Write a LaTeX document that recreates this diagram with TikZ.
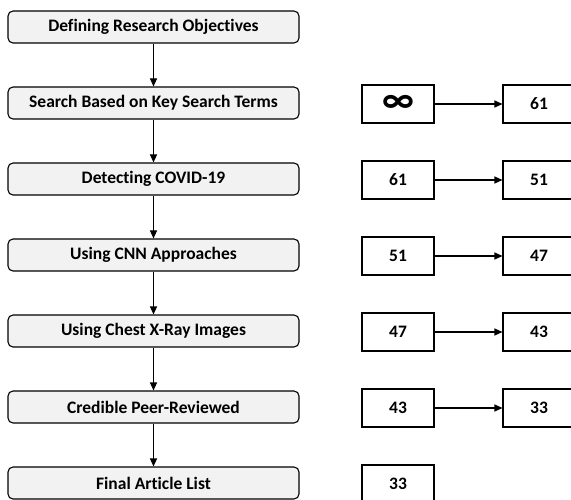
\documentclass[tikz,border=0pt]{standalone}
\usepackage{fontspec}
\setmainfont{Carlito}[Ligatures={NoCommon,NoContextual}]
\usetikzlibrary{arrows.meta}
\newcommand{\infsym}{{\fontsize{38}{38}\selectfont ∞}}
\begin{document}
\begin{tikzpicture}[x=1pt,y=-1pt,
  stagebox/.style={draw=black, line width=1.1pt, fill=black!5, rounded corners=5pt,
    minimum width=291pt, minimum height=32pt, inner sep=0pt, font=\fontsize{17.5}{19}\selectfont\bfseries},
  countbox/.style={draw=black, line width=1.1pt, fill=white,
    minimum width=72pt, minimum height=38pt, inner sep=0pt, font=\fontsize{17.5}{19}\selectfont\bfseries},
  flow/.style={-{Triangle[length=8pt,width=7pt]}, line width=1.1pt}]
\useasboundingbox (0,0) rectangle (571,500);
\node[stagebox] (s1) at (153.5,27) {Defining Research Objectives};
\node[stagebox] (s2) at (153.5,103) {Search Based on Key Search Terms};
\node[stagebox] (s3) at (153.5,179) {Detecting COVID-19};
\node[stagebox] (s4) at (153.5,255) {Using CNN Approaches};
\node[stagebox] (s5) at (153.5,331) {Using Chest X-Ray Images};
\node[stagebox] (s6) at (153.5,407) {Credible Peer-Reviewed};
\node[stagebox] (s7) at (153.5,483) {Final Article List};
\draw[flow] (s1) -- (s2);
\draw[flow] (s2) -- (s3);
\draw[flow] (s3) -- (s4);
\draw[flow] (s4) -- (s5);
\draw[flow] (s5) -- (s6);
\draw[flow] (s6) -- (s7);
\node[countbox] (a1) at (398,104) {\infsym};
\node[countbox] (b1) at (539,104) {61};
\node[countbox] (a2) at (398,180) {61};
\node[countbox] (b2) at (539,180) {51};
\node[countbox] (a3) at (398,256) {51};
\node[countbox] (b3) at (539,256) {47};
\node[countbox] (a4) at (398,332) {47};
\node[countbox] (b4) at (539,332) {43};
\node[countbox] (a5) at (398,408) {43};
\node[countbox] (b5) at (539,408) {33};
\node[countbox] (a6) at (398,484) {33};
\draw[flow] (a1) -- (b1);
\draw[flow] (a2) -- (b2);
\draw[flow] (a3) -- (b3);
\draw[flow] (a4) -- (b4);
\draw[flow] (a5) -- (b5);
\end{tikzpicture}
\end{document}
